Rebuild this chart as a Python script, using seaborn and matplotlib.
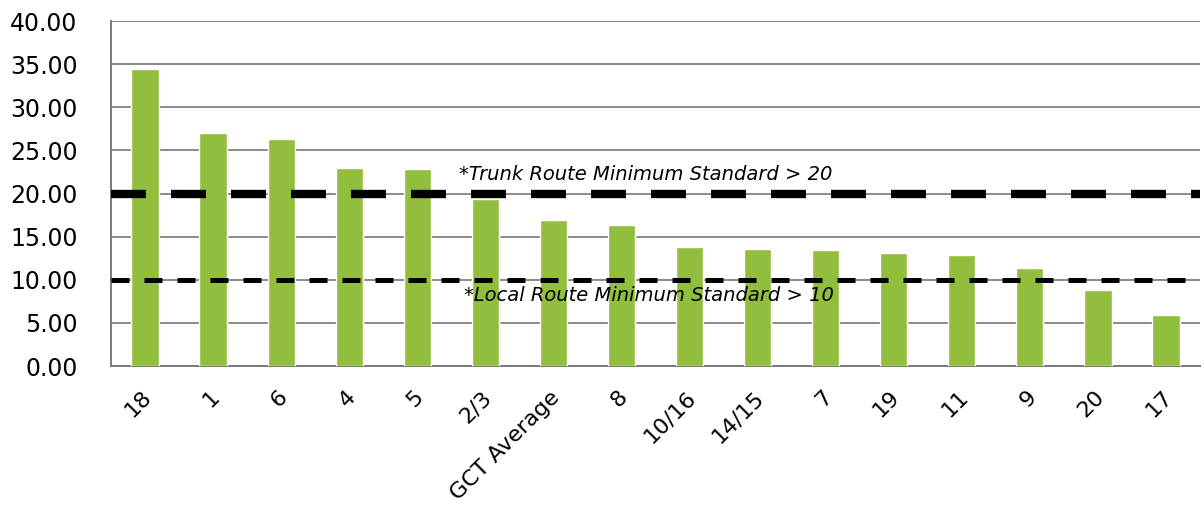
import numpy as np
import pandas as pd
import matplotlib
matplotlib.use('Agg')
import matplotlib.pyplot as plt
import matplotlib.transforms as mtransforms
import seaborn as sns

# Route values
routes = ['18', '1', '6', '4', '5', '2/3', 'GCT Average', '8', '10/16',
          '14/15', '7', '19', '11', '9', '20', '17']
values = [34.5, 27.0, 26.3, 23.0, 22.9, 19.4, 16.9, 16.3, 13.8,
          13.6, 13.5, 13.1, 12.9, 11.4, 8.8, 5.9]

trunk_std = 20
local_std = 10
trunk_label = '*Trunk Route Minimum Standard > 20'
local_label = '*Local Route Minimum Standard > 10'

df = pd.DataFrame({'route': routes, 'value': values})

sns.set_style('white')
plt.rcParams['font.family'] = ['DejaVu Sans']
plt.rcParams['text.color'] = 'black'

fig = plt.figure(figsize=(12.04, 5.08), dpi=100)
ax = fig.add_axes([111 / 1204, 0.2795, 1089 / 1204, 0.679])

sns.barplot(data=df, x='route', y='value', order=routes, color='#92BE3E',
            saturation=1, width=0.4, ax=ax, zorder=3)

# gridlines
ax.set_ylim(0, 40)
ax.set_yticks(np.arange(0, 41, 5))
ax.yaxis.grid(True, color='#8a8a8a', linewidth=1.4, zorder=0)
ax.set_axisbelow(True)
ax.set_xlim(-0.5, 15.5)

# standard lines
ax.axhline(trunk_std, color='black', linewidth=6, dashes=(4.2, 3), zorder=4)
ax.axhline(local_std, color='black', linewidth=3.6, dashes=(3.6, 3), zorder=4)
ax.text(7.36, 21.6, trunk_label, style='italic', fontsize=14, ha='center',
        va='baseline', color='black', zorder=5)
ax.text(7.4, 9.3, local_label, style='italic', fontsize=14, ha='center',
        va='top', color='black', zorder=5)

# spines & ticks
for s in ['top', 'right']:
    ax.spines[s].set_visible(False)
for s in ['left', 'bottom']:
    ax.spines[s].set_color('#7a7a7a')
    ax.spines[s].set_linewidth(1.4)

ax.set_yticklabels([f'{v:.2f}' for v in np.arange(0, 41, 5)], fontsize=17,
                   color='black')
ax.tick_params(axis='y', length=7, color='#7a7a7a', width=1.2, pad=17)
ax.set_xticks(np.arange(len(routes)))
ax.set_xticklabels(routes, rotation=45, ha='right', rotation_mode='anchor',
                   fontsize=16, color='black')
ax.tick_params(axis='x', which='major', length=0, pad=15)
offset = mtransforms.ScaledTranslation(-4 / 100, 0, fig.dpi_scale_trans)
for lbl in ax.get_xticklabels():
    lbl.set_transform(lbl.get_transform() + offset)
ax.set_xticks(np.arange(len(routes)) + 0.5, minor=True)
ax.tick_params(axis='x', which='minor', length=7, color='#7a7a7a', width=1.2)
ax.set_xlabel('')
ax.set_ylabel('')

fig.savefig('out.png', dpi=100)
